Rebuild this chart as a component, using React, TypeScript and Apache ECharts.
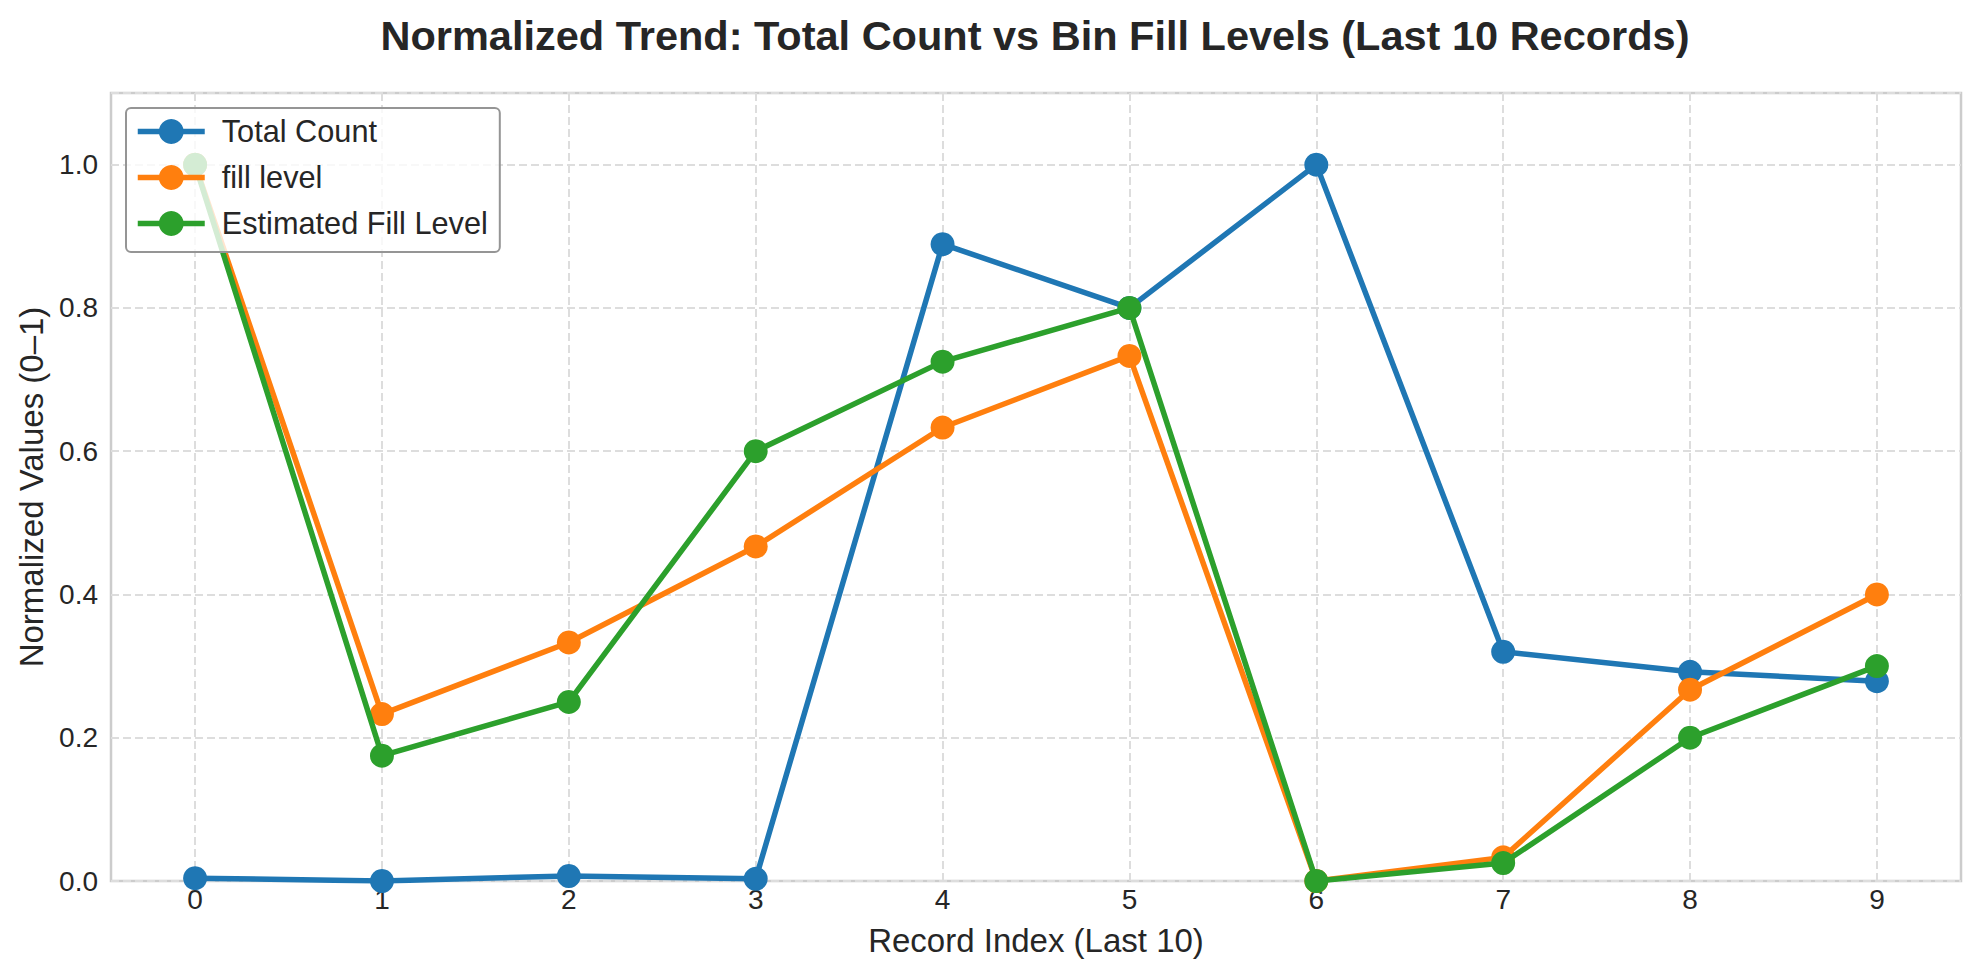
import React, { useEffect, useRef } from "react";
import * as echarts from "echarts";

const recordIndex = [0, 1, 2, 3, 4, 5, 6, 7, 8, 9];
const totalCount = [0.004, 0.0, 0.007, 0.003, 0.889, 0.8, 1.0, 0.32, 0.292, 0.279];
const fillLevel = [1.0, 0.233, 0.333, 0.467, 0.633, 0.733, 0.0, 0.033, 0.267, 0.4];
const estimatedFill = [1.0, 0.175, 0.25, 0.6, 0.725, 0.8, 0.0, 0.025, 0.2, 0.3];
const seriesNames = ["Total Count", "fill level", "Estimated Fill Level"];
const seriesColors = ["#1f77b4", "#ff7f0e", "#2ca02c"];
const xTicks = [0, 1, 2, 3, 4, 5, 6, 7, 8, 9];

const FONT = "Liberation Sans, Arial, sans-serif";
const TEXT = "#262626";

export default function App() {
  const ref = useRef<HTMLDivElement>(null);
  useEffect(() => {
    if (!ref.current) return;
    const chart = echarts.init(ref.current, null, { renderer: "svg" });
    const allData = [totalCount, fillLevel, estimatedFill];
    chart.setOption({
      animation: false,
      backgroundColor: "#ffffff",
      textStyle: { fontFamily: FONT, color: TEXT },
      title: {
        text: "Normalized Trend: Total Count vs Bin Fill Levels (Last 10 Records)",
        left: 1030,
        top: 9,
        textAlign: "center",
        textStyle: { fontFamily: FONT, fontSize: 41.5, fontWeight: "bold", color: TEXT },
      },
      grid: {
        left: 111,
        top: 93,
        right: 19,
        bottom: 99,
        show: true,
        borderColor: "#cccccc",
        borderWidth: 2.5,
        backgroundColor: "transparent",
      },
      legend: {
        orient: "vertical",
        left: 126,
        top: 108,
        itemWidth: 67,
        itemHeight: 31,
        itemGap: 15,
        padding: [8, 12, 13, 9],
        backgroundColor: "rgba(255,255,255,0.8)",
        borderColor: "#959595",
        borderWidth: 2,
        borderRadius: 5,
        z: 10,
        lineStyle: { width: 5.5 },
        textStyle: { fontFamily: FONT, fontSize: 30.7, color: TEXT, padding: [0, 0, 0, 12] },
        data: seriesNames,
      },
      xAxis: {
        type: "value",
        min: -0.45,
        max: 9.45,
        name: "Record Index (Last 10)",
        nameLocation: "middle",
        nameGap: 43,
        nameTextStyle: { fontFamily: FONT, fontSize: 33, color: TEXT },
        axisLine: { show: false },
        axisTick: { show: false, customValues: xTicks },
        axisLabel: {
          customValues: xTicks,
          fontFamily: FONT,
          fontSize: 28,
          color: TEXT,
          margin: 4,
        },
        splitLine: {
          show: true,
          lineStyle: { color: "#dddddd", width: 2, type: [8, 4] },
        },
      },
      yAxis: {
        type: "value",
        min: 0,
        max: 1.1,
        interval: 0.2,
        name: "Normalized Values (0–1)",
        nameLocation: "middle",
        nameGap: 61,
        nameTextStyle: { fontFamily: FONT, fontSize: 33, color: TEXT },
        axisLine: { show: false },
        axisTick: { show: false },
        axisLabel: {
          fontFamily: FONT,
          fontSize: 28,
          color: TEXT,
          margin: 13,
          showMaxLabel: false,
          formatter: (v: number) => (v > 1.05 ? "" : v.toFixed(1)),
        },
        splitLine: {
          show: true,
          lineStyle: { color: "#dddddd", width: 2, type: [8, 4] },
        },
      },
      series: seriesNames.map((name, i) => ({
        name,
        type: "line",
        data: recordIndex.map((x, j) => [x, allData[i][j]]),
        symbol: "circle",
        symbolSize: 24,
        showSymbol: true,
        color: seriesColors[i],
        lineStyle: { color: seriesColors[i], width: 5.5 },
        itemStyle: { color: seriesColors[i] },
        z: 2 + i,
        emphasis: { disabled: true },
      })),
    });
    return () => chart.dispose();
  }, []);
  return (
    <div
      ref={ref}
      style={{ position: "fixed", top: 0, left: 0, width: 1980, height: 980 }}
    />
  );
}
